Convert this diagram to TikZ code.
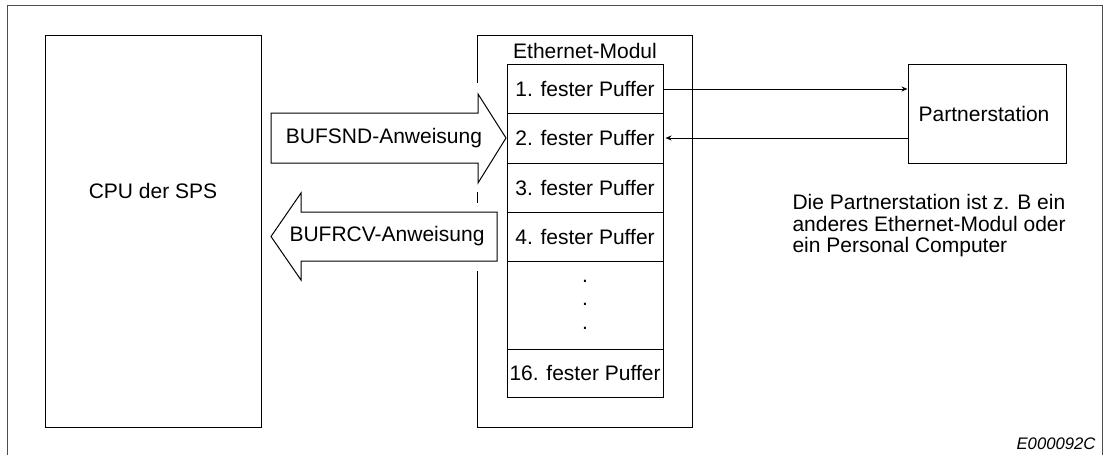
\documentclass[tikz,border=0pt]{standalone}
\usepackage{fontspec}
\setmainfont{Liberation Sans}
\usetikzlibrary{arrows.meta,calc}
\begin{document}
\begin{tikzpicture}[x=1pt,y=-1pt,line width=1pt,
  every node/.style={font=\fontsize{21}{21.5}\selectfont,inner sep=0pt},
  box/.style={draw,rectangle},
  cell/.style={draw,rectangle,minimum width=156pt,text height=15.2pt,text depth=0pt},
  blockarrow/.style={draw,fill=white,line join=miter},
  link/.style={-{Stealth[length=6pt,width=5pt]}},
  frame/.style={draw=black!70}]
\useasboundingbox (0,0) rectangle (1103,455);
% outer frame (open at the bottom)
\draw[frame] (7,455) -- (7,5) -- (1102,5) -- (1102,455);
% CPU
\node[box,minimum width=216pt,minimum height=392pt] (cpu) at (153,231) {};
\node (cputxt) at (153,190.5) {CPU der SPS};
% Ethernet module outline (left side interrupted by the arrows)
\coordinate (mnw) at (477,35);
\coordinate (mne) at (692,35);
\coordinate (mse) at (692,427);
\coordinate (msw) at (477,427);
\draw (477,83) -- (mnw) -- (mne) -- (mse) -- (msw) -- (477,271);
\draw (477,192) -- (477,203);
\node (mlabel) at (585,51) {Ethernet-Modul};
% buffers
\node[cell,minimum height=49pt]   (b1)  at (585,88.5)  {1. fester Puffer};
\node[cell,minimum height=50pt]   (b2)  at (585,138)   {2. fester Puffer};
\node[cell,minimum height=49pt]   (b3)  at (585,187.5) {3. fester Puffer};
\node[cell,minimum height=49pt]   (b4)  at (585,236.5) {4. fester Puffer};
\node[draw,minimum width=156pt,minimum height=88pt] (bdots) at (585,305) {};
\node (d1) at (585,281) {.};
\node (d2) at (585,304) {.};
\node (d3) at (585,328) {.};
\node[cell,minimum height=48pt]   (b16) at (585,373)   {16. fester Puffer};
% block arrows
\draw[blockarrow] (271,113) -- (478,113) -- (478,94) -- (506,138) -- (478,183) -- (478,163) -- (271,163) -- cycle;
\node (snd) at (384,138) {BUFSND-Anweisung};
\draw[blockarrow] (497,212) -- (301,212) -- (301,193) -- (271,236.5) -- (301,280) -- (301,261) -- (497,261) -- cycle;
\node (rcv) at (387,236.5) {BUFRCV-Anweisung};
% partner station
\node[box,minimum width=158pt,minimum height=99pt] (partner) at (987,113.5) {};
\node (ptxt) at (984,113.5) {Partnerstation};
\draw[link] (b1.east |- 0,89) -- (partner.west |- 0,89);
\draw[link] (partner.west |- 0,138) -- ($(b2.east)+(2,0)$);
% note
\node[anchor=north west,align=left] (note) at (792,193.8)
  {Die Partnerstation ist z. B ein\\anderes Ethernet-Modul oder\\ein Personal Computer};
% figure id
\node[anchor=base east,font=\fontsize{16.7}{18}\selectfont\itshape] (fig) at (1096,449) {E000092C};
\end{tikzpicture}
\end{document}
